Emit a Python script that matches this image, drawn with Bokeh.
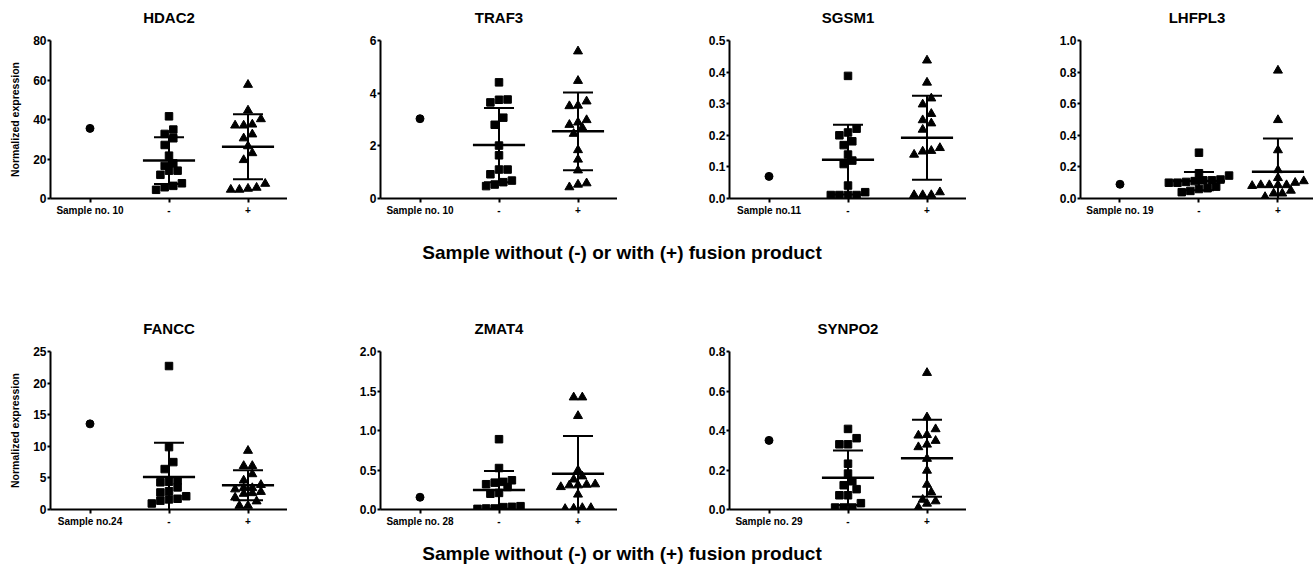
import numpy as np
from bokeh.plotting import figure
from bokeh.layouts import column, row
from bokeh.models import FixedTicker, Label, ColumnDataSource, Range1d
from bokeh.embed import file_html
from bokeh.resources import INLINE

# ---------------- data ----------------
genes = ["HDAC2", "TRAF3", "SGSM1", "LHFPL3", "FANCC", "ZMAT4", "SYNPO2"]
sample_labels = ["Sample no. 10", "Sample no. 10", "Sample no.11", "Sample no. 19",
                 "Sample no.24", "Sample no. 28", "Sample no. 29"]
group_labels = ["-", "+"]
shared_xlabel = "Sample without (-) or with (+) fusion product"
ylabel = "Normalized expression"

sample_values = [35.5, 3.03, 0.07, 0.09, 13.55, 0.155, 0.35]

hdac2_minus = [41.6, 34.9, 32.7, 30.5, 27.1, 21.7, 17.8, 16.5, 14.1, 14.1, 12.0, 7.7, 6.4, 5.7, 4.4]
hdac2_plus = [57.6, 44.6, 40.2, 37.5, 37.0, 37.0, 32.5, 30.5, 26.5, 23.0, 19.5, 7.5, 5.0, 4.5, 4.5, 5.5]
traf3_minus = [4.41, 3.75, 3.65, 3.76, 3.07, 2.80, 2.01, 1.64, 1.10, 1.10, 0.92, 0.62, 0.68, 0.47, 0.53]
traf3_plus = [5.59, 4.47, 3.69, 3.51, 3.53, 2.98, 2.89, 2.80, 2.69, 2.46, 1.84, 1.48, 1.07, 0.58, 0.43, 0.53]
sgsm1_minus = [0.388, 0.221, 0.200, 0.209, 0.181, 0.169, 0.139, 0.120, 0.109, 0.041, 0.020, 0.011, 0.011, 0.011, 0.011]
sgsm1_plus = [0.437, 0.367, 0.317, 0.298, 0.268, 0.248, 0.238, 0.218, 0.160, 0.151, 0.139, 0.149, 0.011, 0.011, 0.011, 0.020]
lhfpl3_minus = [0.29, 0.16, 0.145, 0.12, 0.115, 0.115, 0.11, 0.105, 0.10, 0.10, 0.075, 0.065, 0.06, 0.048, 0.04]
lhfpl3_plus = [0.81, 0.497, 0.306, 0.18, 0.13, 0.11, 0.10, 0.085, 0.085, 0.085, 0.085, 0.08, 0.05, 0.032, 0.032, 0.01]
fancc_minus = [22.7, 9.87, 7.5, 6.4, 4.6, 4.3, 4.4, 3.5, 2.9, 2.7, 2.1, 1.6, 1.7, 1.4, 0.95]
fancc_plus = [9.3, 6.9, 6.9, 5.6, 4.6, 3.4, 3.2, 3.4, 3.9, 2.5, 2.6, 2.8, 1.9, 1.3, 0.6, 0.6]
zmat4_minus = [0.89, 0.525, 0.35, 0.32, 0.34, 0.37, 0.285, 0.21, 0.20, 0.034, 0.013, 0.008, 0.013, 0.03, 0.042]
zmat4_plus = [1.42, 1.42, 1.185, 0.496, 0.42, 0.38, 0.32, 0.285, 0.307, 0.307, 0.315, 0.19, 0.02, 0.008, 0.013, 0.02]
synpo2_minus = [0.408, 0.361, 0.33, 0.33, 0.232, 0.182, 0.143, 0.123, 0.103, 0.072, 0.072, 0.032, 0.01, 0.01, 0.01]
synpo2_plus = [0.692, 0.467, 0.407, 0.375, 0.378, 0.348, 0.329, 0.316, 0.257, 0.197, 0.126, 0.087, 0.042, 0.05, 0.03, 0.01]

minus_values = [hdac2_minus, traf3_minus, sgsm1_minus, lhfpl3_minus, fancc_minus, zmat4_minus, synpo2_minus]
plus_values = [hdac2_plus, traf3_plus, sgsm1_plus, lhfpl3_plus, fancc_plus, zmat4_plus, synpo2_plus]

minus_mean = [19.2, 2.03, 0.123, 0.11, 5.15, 0.248, 0.161]
minus_sd = [11.8, 1.41, 0.110, 0.057, 5.4, 0.24, 0.138]
plus_mean = [26.2, 2.55, 0.192, 0.169, 3.85, 0.454, 0.259]
plus_sd = [16.5, 1.48, 0.133, 0.21, 2.37, 0.475, 0.195]

y_ticks = [
    [0, 20, 40, 60, 80],
    [0, 2, 4, 6],
    [0, 0.1, 0.2, 0.3, 0.4, 0.5],
    [0, 0.2, 0.4, 0.6, 0.8, 1.0],
    [0, 5, 10, 15, 20, 25],
    [0, 0.5, 1.0, 1.5, 2.0],
    [0, 0.2, 0.4, 0.6, 0.8],
]
y_tick_labels = [
    ["0", "20", "40", "60", "80"],
    ["0", "2", "4", "6"],
    ["0.0", "0.1", "0.2", "0.3", "0.4", "0.5"],
    ["0.0", "0.2", "0.4", "0.6", "0.8", "1.0"],
    ["0", "5", "10", "15", "20", "25"],
    ["0.0", "0.5", "1.0", "1.5", "2.0"],
    ["0.0", "0.2", "0.4", "0.6", "0.8"],
]

# ---------------- layout / styling ----------------
FONT = "Liberation Sans"
FRAME_H = 158
TOTAL_W = 1313
# (figure width, left border) per column; frames are 237 px wide (last one 233)
COLS = [(287, 50), (330, 93), (349, 112), (347, 114)]
XEND = [3.5, 3.5, 3.5, 3.45]


def frame_centers(ncols):
    centers, x0 = [], 0
    for w, l in COLS[:ncols]:
        centers.append(x0 + l + (w - l) / 2)
        x0 += w
    return centers


def swarm_offsets(vals, px_y, px_x, size=7.5, gap=8.6):
    v = np.asarray(vals, float)
    order = np.argsort(v, kind="stable")
    offs = np.zeros(len(v))
    rows, cur = [], [order[0]]
    for idx in order[1:]:
        if (v[idx] - v[cur[0]]) * px_y < size:
            cur.append(idx)
        else:
            rows.append(cur)
            cur = [idx]
    rows.append(cur)
    for r in rows:
        n = len(r)
        for k, idx in enumerate(r):
            offs[idx] = (k - (n - 1) / 2) * gap / px_x
    return offs


def make_panel(i, col, top, bottom, with_ylabel=False):
    width, left = COLS[col]
    xend = XEND[col]
    ymax = y_ticks[i][-1]
    p = figure(width=width, height=top + FRAME_H + bottom,
               x_range=Range1d(0.5, xend), y_range=Range1d(0, ymax),
               output_backend="svg", toolbar_location=None,
               min_border_left=left, min_border_right=0,
               min_border_top=top, min_border_bottom=bottom)
    p.outline_line_color = None
    p.grid.visible = False
    p.background_fill_color = "white"
    p.border_fill_color = "white"

    frame_w = width - left
    px_x = frame_w / (xend - 0.5)
    px_y = FRAME_H / ymax

    for ax in (p.xaxis[0], p.yaxis[0]):
        ax.axis_line_width = 2
        ax.axis_line_color = "black"
        ax.major_tick_line_width = 2
        ax.major_tick_line_color = "black"
        ax.major_tick_in = 0
        ax.minor_tick_line_color = None
        ax.major_label_text_font = FONT
        ax.major_label_text_font_style = "bold"
        ax.major_label_text_color = "black"
    p.yaxis.ticker = FixedTicker(ticks=y_ticks[i])
    p.yaxis.major_label_overrides = {t: s for t, s in zip(y_ticks[i], y_tick_labels[i])}
    p.yaxis.major_tick_out = 3
    p.yaxis.major_label_standoff = 1
    p.yaxis.major_label_text_font_size = "12px"
    p.xaxis.ticker = FixedTicker(ticks=[1, 2, 3])
    p.xaxis.major_label_overrides = {1: sample_labels[i], 2: group_labels[0], 3: group_labels[1]}
    p.xaxis.major_tick_out = 4
    p.xaxis.major_label_standoff = 2
    p.xaxis.major_label_text_font_size = "10px"
    if with_ylabel:
        p.yaxis.axis_label = ylabel
        p.yaxis.axis_label_text_font = FONT
        p.yaxis.axis_label_text_font_size = "10.5px"
        p.yaxis.axis_label_text_font_style = "bold"
        p.yaxis.axis_label_text_color = "black"
        p.yaxis.axis_label_standoff = 9

    # single sample
    p.scatter(x=[1], y=[sample_values[i]], marker="circle", size=8,
              fill_color="black", line_color="black")

    # groups
    groups = [(2, minus_values[i], minus_mean[i], minus_sd[i], "square", 7.5),
              (3, plus_values[i], plus_mean[i], plus_sd[i], "triangle", 9)]
    for xc, vals, m, sd, mk, sz in groups:
        offs = swarm_offsets(vals, px_y, px_x)
        src = ColumnDataSource(dict(x=xc + offs, y=vals))
        p.scatter(x="x", y="y", source=src, marker=mk, size=sz,
                  fill_color="black", line_color="black")
        lo, hi = m - sd, m + sd
        seg = ColumnDataSource(dict(
            x0=[xc, xc - 0.19, xc - 0.19, xc - 0.33],
            x1=[xc, xc + 0.19, xc + 0.19, xc + 0.33],
            y0=[lo, lo, hi, m],
            y1=[hi, lo, hi, m],
            w=[2, 2, 2, 2.5]))
        p.segment(x0="x0", y0="y0", x1="x1", y1="y1", line_width="w",
                  line_color="black", source=seg)
    return p


def text_strip(height, items):
    """items: list of (text, x_px, y_from_top_px, font_size)"""
    f = figure(width=TOTAL_W, height=height, x_range=Range1d(0, TOTAL_W), y_range=Range1d(0, height),
               output_backend="svg", toolbar_location=None,
               x_axis_location=None, y_axis_location=None,
               min_border=0, min_border_left=0, min_border_right=0,
               min_border_top=0, min_border_bottom=0)
    f.outline_line_color = None
    f.grid.visible = False
    for txt, x, yt, fs in items:
        f.add_layout(Label(x=x, y=height - yt, text=txt, text_align="center",
                           text_baseline="middle", text_font=FONT, text_font_size=fs,
                           text_font_style="bold", text_color="black"))
    return f


c4 = frame_centers(4)
c3 = frame_centers(3)

strip_top = text_strip(30, [(genes[k], c4[k], 17, "15px") for k in range(4)])
row1 = row(
    make_panel(0, 0, 10, 28, with_ylabel=True),
    make_panel(1, 1, 10, 28),
    make_panel(2, 2, 10, 28),
    make_panel(3, 3, 10, 28),
)
strip_mid = text_strip(115, [(shared_xlabel, 621.5, 26, "19px")] +
                       [(genes[4 + k], c3[k], 102, "15px") for k in range(3)])
row2 = row(
    make_panel(4, 0, 10, 28, with_ylabel=True),
    make_panel(5, 1, 10, 28),
    make_panel(6, 2, 10, 28),
)
strip_bot = text_strip(30, [(shared_xlabel, 621.5, 16, "19px")])

layout = column(strip_top, row1, strip_mid, row2, strip_bot)

open("out.html", "w").write(file_html(layout, INLINE))
